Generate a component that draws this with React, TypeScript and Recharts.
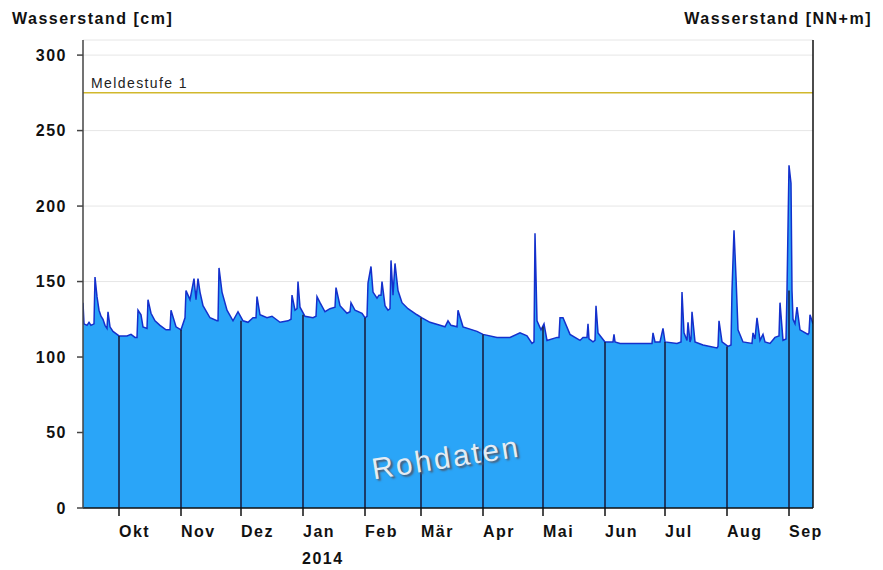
import React from 'react';
import { ComposedChart, Area, XAxis, YAxis, CartesianGrid, ReferenceLine } from 'recharts';

// Tage ab 13.09.2013 und Wasserstand in cm
const tage = [
  0, 0.5, 2, 3, 4, 5.5, 6, 7, 8, 9, 10, 11, 12, 12.5, 13.5, 15, 16, 17, 18, 22,
  24, 26, 27, 27.5, 29, 30, 32, 32.5, 34, 36, 38.5, 41.5, 43.5, 44, 46.5, 49, 51, 51.5, 53.5, 55.5,
  56.5, 57.5, 58.5, 60, 63.5, 67, 67.5, 68, 69.5, 72, 75, 77.5, 80, 82.5, 85, 86.5, 87, 88.5, 92, 94.5,
  98.5, 102.5, 104, 104.5, 106, 107, 107.5, 108.5, 111, 115, 116.5, 117, 118.5, 121, 123.5, 126, 126.5, 128.5, 132, 133.5,
  134, 136, 139.5, 141, 142, 142.5, 144, 145, 147, 148, 149, 149.5, 151, 152.5, 153.5, 154, 155, 156, 157.5, 159.5,
  162.5, 167, 169.5, 173.5, 178.5, 181, 182.5, 184, 187, 187.5, 190, 197, 200, 207, 213.5, 218.5, 222, 224.5, 225.5, 226,
  227, 229, 230.5, 232, 237, 238, 238.5, 240, 243.5, 248.5, 250, 252, 252.5, 253, 255, 256, 256.5, 257.5, 261, 265,
  265.5, 266, 268.5, 277, 284.5, 285, 286, 288.5, 290, 291, 297, 299, 299.5, 300.5, 302, 302.5, 303.5, 304, 304.5, 306,
  310, 317, 317.5, 318, 319.5, 322.5, 324, 324.5, 325.5, 326.5, 327.5, 330, 334.5, 335, 336, 337, 338.5, 340, 341, 343.5,
  346, 348, 348.5, 350, 351.5, 352, 353, 354, 354.5, 355, 356, 357, 358.5, 362.5, 363, 363.5, 365,
];

const pegelCm = [
  136, 122, 121, 123, 121, 122, 153, 140, 131, 127, 125, 121, 119, 130, 120, 117, 116, 115, 114, 114,
  115, 113, 113, 131, 128, 120, 119, 138, 129, 124, 121, 118, 118, 131, 120, 118, 126, 144, 138, 152,
  138, 152, 143, 134, 126, 124, 124, 159, 143, 131, 124, 130, 124, 123, 126, 126, 140, 128, 126, 127,
  123, 124, 125, 141, 131, 132, 150, 133, 127, 126, 127, 140, 136, 130, 132, 133, 146, 134, 129, 130,
  136, 131, 129, 126, 127, 149, 160, 143, 139, 141, 141, 150, 134, 131, 132, 164, 141, 162, 144, 136,
  132, 128, 126, 123, 121, 120, 124, 121, 120, 131, 120, 117, 115, 113, 113, 116, 114, 109, 110, 182,
  124, 118, 122, 111, 113, 113, 126, 126, 115, 111, 113, 113, 122, 112, 110, 111, 134, 116, 110, 110,
  115, 110, 109, 109, 109, 116, 110, 110, 119, 110, 109, 110, 143, 116, 111, 123, 110, 112, 130, 110,
  108, 106, 107, 124, 110, 107, 108, 144, 184, 153, 118, 110, 109, 116, 112, 126, 111, 115, 110, 109,
  113, 114, 136, 111, 112, 144, 227, 215, 144, 125, 122, 133, 118, 115, 116, 128, 122,
];

const monatsTage = [18, 49, 79, 110, 141, 169, 200, 230, 261, 291, 322, 353];
const monatsNamen = ['Okt', 'Nov', 'Dez', 'Jan', 'Feb', 'Mär', 'Apr', 'Mai', 'Jun', 'Jul', 'Aug', 'Sep'];
const monatsLinieCm = [114, 118, 124, 128, 126, 126, 115, 120, 110, 110, 107, 144];

const linksTicks = [0, 50, 100, 150, 200, 250, 300];
const rechtsTicks = [0, 100, 200, 300];
const rechtsLabels = ['299,01', '300', '301', '302'];

const meldestufe1 = 275;

const daten = tage.map((t, i) => ({ tag: t, pegel: pegelCm[i] }));

const FONT = '"Liberation Sans", Arial, sans-serif';
const tickStil = { fontSize: 16, fontWeight: 700, fill: '#111', fontFamily: FONT, letterSpacing: 1.5 };

const MonatTick = (props: any) => {
  const { x, y, payload } = props;
  const i = monatsTage.indexOf(payload.value);
  return (
    <text x={x} y={y + 19} textAnchor="start" {...tickStil}>
      {monatsNamen[i]}
    </text>
  );
};

const MeldeLabel = (props: any) => {
  const { viewBox } = props;
  return (
    <text x={viewBox.x + 8} y={viewBox.y - 5} fontSize={14} fontFamily={FONT} fill="#222" letterSpacing={1.4}>
      Meldestufe 1
    </text>
  );
};

const titelStil: React.CSSProperties = {
  position: 'absolute',
  top: 11,
  fontFamily: FONT,
  fontSize: 16,
  fontWeight: 700,
  lineHeight: '16px',
  letterSpacing: 1.5,
  color: '#111',
  whiteSpace: 'nowrap',
};

export default function App() {
  return (
    <div style={{ position: 'absolute', left: 0, top: 0, width: 883, height: 570, background: '#fff', overflow: 'hidden' }}>
      <div style={{ ...titelStil, left: 12 }}>Wasserstand [cm]</div>
      <div style={{ ...titelStil, right: 11 }}>Wasserstand [NN+m]</div>
      <ComposedChart width={883} height={570} data={daten} margin={{ top: 40, right: 10, bottom: 32, left: 23 }}>
        <CartesianGrid vertical={false} stroke="#e6e6e6" strokeWidth={1} />
        <XAxis
          dataKey="tag"
          type="number"
          domain={[0, 365]}
          ticks={monatsTage}
          tick={<MonatTick />}
          tickSize={8}
          tickMargin={2}
          height={30}
          axisLine={{ stroke: '#111', strokeWidth: 1.5 }}
          tickLine={{ stroke: '#111', strokeWidth: 1.5 }}
          interval={0}
          allowDataOverflow
        />
        <YAxis
          domain={[0, 310]}
          ticks={linksTicks}
          width={60}
          tickSize={6}
          tickMargin={10}
          tick={tickStil}
          axisLine={{ stroke: '#444', strokeWidth: 1.5 }}
          tickLine={{ stroke: '#444', strokeWidth: 1.5 }}
          interval={0}
        />
        <YAxis
          yAxisId="right"
          orientation="right"
          domain={[0, 310]}
          ticks={rechtsTicks}
          tickFormatter={(v: number) => rechtsLabels[rechtsTicks.indexOf(v)]}
          width={60}
          tickSize={6}
          tickMargin={4}
          tick={tickStil}
          axisLine={{ stroke: '#111', strokeWidth: 1.5 }}
          tickLine={{ stroke: '#111', strokeWidth: 1.5 }}
          interval={0}
        />
        <Area
          type="linear"
          dataKey="pegel"
          stroke="#1430cc"
          strokeWidth={1.5}
          fill="#2aa5f8"
          fillOpacity={1}
          dot={false}
          activeDot={false}
          isAnimationActive={false}
        />
        {monatsTage.map((t, i) => (
          <ReferenceLine
            key={t}
            segment={[{ x: t, y: 0 }, { x: t, y: monatsLinieCm[i] }]}
            stroke="#16183a"
            strokeWidth={1.5}
          />
        ))}
        <ReferenceLine y={meldestufe1} stroke="#d1b82c" strokeWidth={1.5} label={<MeldeLabel />} />
      </ComposedChart>
      <div
        style={{
          position: 'absolute',
          left: 446,
          top: 458,
          transform: 'translate(-50%, -50%) rotate(-9deg)',
          fontFamily: FONT,
          fontSize: 30,
          letterSpacing: 2.5,
          color: '#e4ecf4',
          textShadow: '2px 2px 2px #4a5a70',
          whiteSpace: 'nowrap',
        }}
      >
        Rohdaten
      </div>
      <div style={{ ...titelStil, top: 551, left: 302 }}>2014</div>
    </div>
  );
}
